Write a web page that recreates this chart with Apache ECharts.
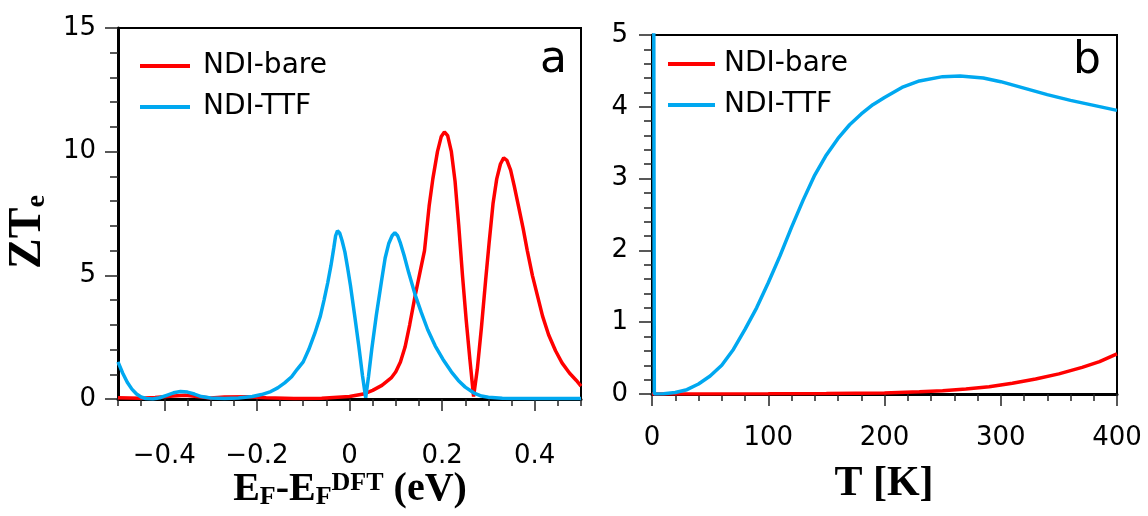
<!DOCTYPE html>
<html><head><meta charset="utf-8">
<script src="https://cdn.jsdelivr.net/npm/echarts@6/dist/echarts.min.js"></script>
<style>html,body{margin:0;padding:0;background:#fff}#c{width:1148px;height:516px}</style>
</head><body><div id="c"></div>
<script>
// ---- Panel a: ZTe vs EF - EF^DFT (eV)
const aBareX = [-0.5,-0.45,-0.42,-0.38,-0.355,-0.33,-0.3,-0.27,-0.22,-0.18,-0.12,-0.06,0.0,0.03,0.05,0.07,0.09,0.10,0.11,0.12,0.13,0.142,0.152,0.162,0.172,0.18,0.19,0.198,0.205,0.212,0.22,0.228,0.236,0.244,0.252,0.26,0.268,0.276,0.285,0.294,0.302,0.31,0.318,0.326,0.333,0.34,0.348,0.356,0.365,0.375,0.384,0.395,0.407,0.417,0.43,0.445,0.459,0.475,0.49,0.5];
const aBareY = [0.05,0.03,0.06,0.12,0.15,0.1,0.04,0.08,0.09,0.05,0.02,0.03,0.1,0.2,0.35,0.55,0.85,1.1,1.5,2.1,3.0,4.2,5.1,6.0,7.8,8.9,10.0,10.6,10.8,10.65,10.0,8.8,7.0,5.0,3.2,1.6,0.1,1.2,2.9,4.8,6.4,7.9,8.9,9.5,9.75,9.65,9.25,8.6,7.8,6.9,6.0,5.0,4.1,3.35,2.6,1.95,1.46,1.05,0.75,0.52];
const aTtfX = [-0.5,-0.49,-0.48,-0.47,-0.46,-0.45,-0.44,-0.425,-0.41,-0.395,-0.38,-0.365,-0.35,-0.335,-0.32,-0.3,-0.27,-0.24,-0.21,-0.19,-0.17,-0.155,-0.14,-0.125,-0.113,-0.1,-0.088,-0.075,-0.063,-0.055,-0.047,-0.04,-0.034,-0.03,-0.026,-0.021,-0.016,-0.01,-0.004,0.002,0.011,0.02,0.028,0.035,0.041,0.048,0.058,0.069,0.077,0.085,0.092,0.098,0.104,0.11,0.118,0.128,0.142,0.155,0.169,0.185,0.202,0.22,0.235,0.25,0.268,0.285,0.30,0.33,0.4,0.5];
const aTtfY = [1.5,1.05,0.68,0.4,0.2,0.08,0.02,0.0,0.05,0.15,0.25,0.3,0.28,0.2,0.1,0.04,0.02,0.04,0.1,0.18,0.3,0.45,0.65,0.9,1.2,1.5,2.0,2.65,3.35,4.0,4.7,5.4,6.1,6.6,6.8,6.7,6.4,5.95,5.3,4.6,3.4,2.15,0.95,0.05,0.9,2.0,3.4,4.75,5.7,6.3,6.6,6.72,6.6,6.3,5.8,5.1,4.2,3.5,2.8,2.15,1.6,1.1,0.75,0.48,0.25,0.12,0.07,0.03,0.02,0.02];
const aXMajor = [-0.4,-0.2,0,0.2,0.4];

// ---- Panel b: ZTe vs T [K]
const bBareT = [0,50,100,150,200,230,250,270,290,310,330,350,370,385,400];
const bBareY = [0,0,0.002,0.006,0.015,0.03,0.045,0.07,0.1,0.15,0.21,0.28,0.37,0.45,0.56];
const bTtfT = [1.5,2,10,20,30,40,50,60,70,80,90,100,110,120,130,140,150,160,170,180,190,200,215,230,250,265,285,300,320,340,360,380,400];
const bTtfY = [5.5,0,0.003,0.02,0.06,0.14,0.25,0.4,0.62,0.9,1.2,1.55,1.92,2.32,2.7,3.05,3.33,3.56,3.75,3.9,4.03,4.13,4.27,4.36,4.42,4.43,4.4,4.35,4.26,4.17,4.09,4.02,3.95];

const seriesNames = ['NDI-bare','NDI-TTF'];
const RED = '#ff0000', BLUE = '#00a8f0';
const zip = (xs, ys) => xs.map((x, i) => [x, ys[i]]);

const SANS = 'DejaVu Sans', SERIF = 'Liberation Serif';
const tickFont = {fontSize: 26, fontFamily: SANS, color: '#000'};
const blackLine = {color: '#000', width: 3};
const tickLine = {color: '#222', width: 1.5};
const fmtA = v => (Math.abs(v) < 1e-9 ? '0' : String(+v.toFixed(2)).replace('-', '\u2212'));

const chart = echarts.init(document.getElementById('c'), null, {renderer: 'canvas'});
const rectA = {left: 118, top: 28, width: 463, height: 371};
const gridA = Object.assign({show: true, borderColor: '#000', borderWidth: 2}, rectA);
const gridB = {left: 652, top: 35, width: 465, height: 359, show: true, borderColor: '#000', borderWidth: 2};
const gridA2 = Object.assign({show: false}, rectA);

const legendText = {fontSize: 28, fontFamily: SANS, color: '#000', lineHeight: 34};
const legendBase = {orient: 'vertical', icon: 'rect', itemHeight: 4, itemGap: 7, data: seriesNames};

chart.setOption({
  animation: false,
  backgroundColor: '#fff',
  grid: [gridA, gridB, gridA2],
  legend: [
    Object.assign({}, legendBase, {left: 135, top: 44, itemWidth: 50, textStyle: Object.assign({}, legendText, {padding: [0,0,0,8]})}),
    Object.assign({}, legendBase, {left: 663, top: 42, itemWidth: 47, textStyle: Object.assign({}, legendText, {padding: [0,0,0,4]})})
  ],
  xAxis: [
    {gridIndex: 0, type: 'value', min: -0.5, max: 0.5, interval: 0.05,
     axisLine: {show: true, onZero: false, lineStyle: blackLine}, splitLine: {show: false},
     axisTick: {show: true, length: 7, lineStyle: tickLine},
     axisLabel: {show: false}},
    {gridIndex: 1, type: 'value', min: 0, max: 400, interval: 100,
     axisLine: {show: true, onZero: false, lineStyle: blackLine}, splitLine: {show: false},
     axisTick: {show: true, length: 12, lineStyle: tickLine},
     minorTick: {show: true, splitNumber: 5, length: 7, lineStyle: tickLine},
     axisLabel: Object.assign({margin: 31, showMinLabel: true, showMaxLabel: true}, tickFont)},
    {gridIndex: 2, type: 'value', min: -0.5, max: 0.5,
     axisLine: {show: false, onZero: false}, splitLine: {show: false},
     axisTick: {show: true, customValues: aXMajor, length: 12, lineStyle: tickLine},
     axisLabel: Object.assign({customValues: aXMajor, formatter: fmtA, margin: 44, verticalAlign: 'top'}, tickFont)}
  ],
  yAxis: [
    {gridIndex: 0, type: 'value', min: 0, max: 15, interval: 5,
     axisLine: {show: true, onZero: false, lineStyle: blackLine}, splitLine: {show: false},
     axisTick: {show: true, length: 13, lineStyle: tickLine},
     minorTick: {show: true, splitNumber: 5, length: 8, lineStyle: tickLine},
     axisLabel: Object.assign({margin: 22}, tickFont)},
    {gridIndex: 1, type: 'value', min: 0, max: 5, interval: 1,
     axisLine: {show: true, onZero: false, lineStyle: blackLine}, splitLine: {show: false},
     axisTick: {show: true, length: 13, lineStyle: tickLine},
     minorTick: {show: true, splitNumber: 5, length: 8, lineStyle: tickLine},
     axisLabel: Object.assign({margin: 24}, tickFont)},
    {gridIndex: 2, type: 'value', min: 0, max: 1, show: false}
  ],
  series: [
    {name: seriesNames[0], type: 'line', xAxisIndex: 0, yAxisIndex: 0, data: zip(aBareX, aBareY), showSymbol: false, color: RED, lineStyle: {color: RED, width: 3.5}, z: 3},
    {name: seriesNames[1], type: 'line', xAxisIndex: 0, yAxisIndex: 0, data: zip(aTtfX, aTtfY), showSymbol: false, color: BLUE, lineStyle: {color: BLUE, width: 3.5}, z: 4},
    {name: seriesNames[0], type: 'line', xAxisIndex: 1, yAxisIndex: 1, data: zip(bBareT, bBareY), showSymbol: false, color: RED, lineStyle: {color: RED, width: 3.5}, z: 3},
    {name: seriesNames[1], type: 'line', xAxisIndex: 1, yAxisIndex: 1, data: zip(bTtfT, bTtfY), showSymbol: false, color: BLUE, lineStyle: {color: BLUE, width: 3.5}, z: 4}
  ],
  graphic: [
    {type: 'text', left: 540, top: 39, style: {text: 'a', font: '44px "DejaVu Sans"', fill: '#000'}},
    {type: 'text', left: 1073, top: 40, style: {text: 'b', font: '44px "DejaVu Sans"', fill: '#000'}},
    {type: 'text', x: 28, y: 232, rotation: Math.PI / 2,
     style: {text: '{m|ZT}{s|e}', align: 'center', verticalAlign: 'middle',
       rich: {m: {fontSize: 46, fontWeight: 'bold', fontFamily: SERIF, fill: '#000', lineHeight: 46},
              s: {fontSize: 28, fontWeight: 'bold', fontFamily: SERIF, fill: '#000', lineHeight: 16, verticalAlign: 'bottom'}}}},
    {type: 'text', x: 350, y: 490,
     style: {text: '{m|E}{s|F}{m|-E}{s|F}{p|DFT}{m| (eV)}', align: 'center', verticalAlign: 'middle',
       rich: {m: {fontSize: 40, fontWeight: 'bold', fontFamily: SERIF, fill: '#000', lineHeight: 40},
              s: {fontSize: 26, fontWeight: 'bold', fontFamily: SERIF, fill: '#000', lineHeight: 14, verticalAlign: 'bottom'},
              p: {fontSize: 26, fontWeight: 'bold', fontFamily: SERIF, fill: '#000', lineHeight: 14, verticalAlign: 'top'}}}},
    {type: 'text', x: 884, y: 484,
     style: {text: 'T [K]', align: 'center', verticalAlign: 'middle', font: 'bold 42px "Liberation Serif"', fill: '#000'}}
  ]
});
</script></body></html>
